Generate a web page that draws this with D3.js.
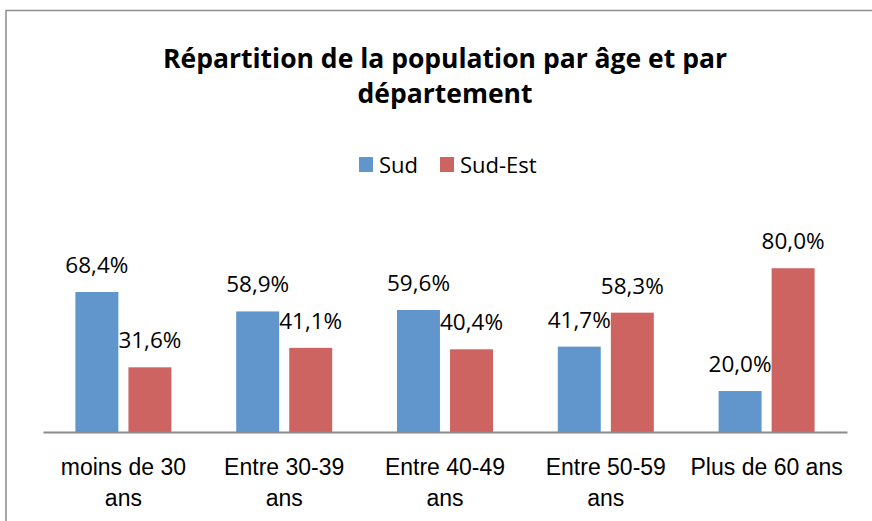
<!DOCTYPE html>
<html>
<head>
<meta charset="utf-8">
<script src="https://cdn.jsdelivr.net/npm/d3@7"></script>
<style>
  body { margin: 0; background: #fff; }
  svg { display: block; font-family: "Open Sans", sans-serif; }
</style>
</head>
<body>
<svg id="chart"></svg>
<script>
const width = 872;
const height = 521;

// data
const categories = ["moins de 30 ans", "Entre 30-39 ans", "Entre 40-49 ans", "Entre 50-59 ans", "Plus de 60 ans"];
const categoryLines = [["moins de 30", "ans"], ["Entre 30-39", "ans"], ["Entre 40-49", "ans"], ["Entre 50-59", "ans"], ["Plus de 60 ans"]];
const seriesNames = ["Sud", "Sud-Est"];
const sud = [68.4, 58.9, 59.6, 41.7, 20.0];
const sudEst = [31.6, 41.1, 40.4, 58.3, 80.0];
const titleLines = ["Répartition de la population par âge et par", "département"];

const colors = ["#6096cb", "#cd6461"];
const values = [sud, sudEst];

const marginLeft = 43;
const marginRight = 25;
const baseY = 432;

const svg = d3.select("#chart")
  .attr("width", width)
  .attr("height", height)
  .attr("viewBox", [0, 0, width, height]);

// chart frame (runs off the right and bottom of the picture)
svg.append("rect")
  .attr("x", 6)
  .attr("y", 10.5)
  .attr("width", width + 20)
  .attr("height", height + 20)
  .attr("fill", "none")
  .attr("stroke", "#8c8c8c")
  .attr("stroke-width", 1.5);

// title
svg.append("text")
  .attr("text-anchor", "middle")
  .attr("font-weight", "bold")
  .attr("font-size", 26.5)
  .attr("fill", "#000")
  .selectAll("tspan")
  .data(titleLines)
  .join("tspan")
  .attr("x", 445)
  .attr("y", (d, i) => 68 + i * 35)
  .text((d) => d);

// scales
const x0 = d3.scaleBand(categories, [marginLeft, width - marginRight]);
const x1 = d3.scaleBand(seriesNames, [32.4, x0.bandwidth() - 32.4]).paddingInner(0.19);
const y = d3.scaleLinear([0, 100], [baseY, baseY - 204.7]);

// bars
const groups = svg.append("g")
  .selectAll("g")
  .data(categories)
  .join("g")
  .attr("transform", (d) => `translate(${x0(d)},0)`);

groups.selectAll("rect")
  .data((d, i) => seriesNames.map((s, j) => ({ s, v: values[j][i], j })))
  .join("rect")
  .attr("x", (d) => x1(d.s))
  .attr("y", (d) => y(d.v))
  .attr("width", x1.bandwidth())
  .attr("height", (d) => y(0) - y(d.v))
  .attr("fill", (d) => colors[d.j]);

// value labels
groups.selectAll("text")
  .data((d, i) => seriesNames.map((s, j) => ({ s, v: values[j][i] })))
  .join("text")
  .attr("x", (d) => x1(d.s) + x1.bandwidth() / 2)
  .attr("y", (d) => y(d.v) - 19)
  .attr("text-anchor", "middle")
  .attr("font-size", 22.5)
  .attr("fill", "#000")
  .text((d) => d3.format(".1f")(d.v).replace(".", ",") + "%");

// x axis
const xAxis = d3.axisBottom(x0).tickSize(0).tickFormat("");
svg.append("g")
  .attr("transform", `translate(0,${baseY})`)
  .call(xAxis)
  .call((g) => g.select(".domain").attr("stroke", "#8c8c8c").attr("stroke-width", 2))
  .call((g) => g.selectAll(".tick").each(function (d, i) {
    d3.select(this).append("text")
      .attr("text-anchor", "middle")
      .attr("fill", "#000")
      .attr("font-size", 23)
      .selectAll("tspan")
      .data(categoryLines[i])
      .join("tspan")
      .attr("x", 0)
      .attr("y", (t, k) => 43 + k * 31)
      .text((t) => t);
  }));

// legend
const legend = svg.append("g")
  .selectAll("g")
  .data(seriesNames)
  .join("g")
  .attr("transform", (d, i) => `translate(${[359, 440][i]},157)`);

legend.append("rect")
  .attr("width", 14)
  .attr("height", 15)
  .attr("fill", (d, i) => colors[i]);

legend.append("text")
  .attr("x", 20)
  .attr("y", 16)
  .attr("font-size", 22)
  .attr("fill", "#000")
  .text((d) => d);
</script>
</body>
</html>
